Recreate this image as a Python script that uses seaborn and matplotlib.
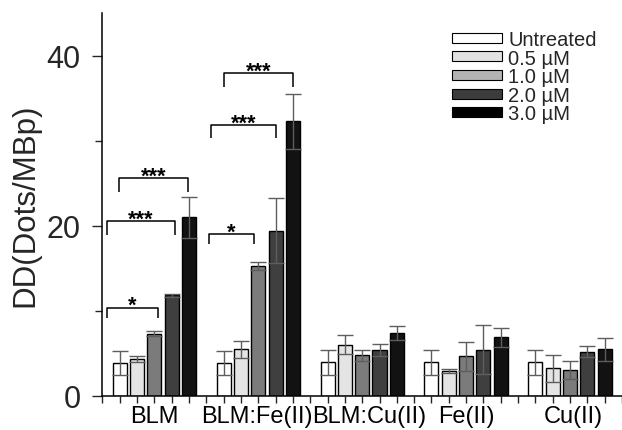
import numpy as np
import pandas as pd
import matplotlib
matplotlib.use("Agg")
import matplotlib.pyplot as plt
import matplotlib.transforms as mtransforms
from matplotlib.patches import Patch
import seaborn as sns

# ---------------- data ----------------
groups = ["BLM", "BLM:Fe(II)", "BLM:Cu(II)", "Fe(II)", "Cu(II)"]
concs = ["Untreated", "0.5 \u00b5M", "1.0 \u00b5M", "2.0 \u00b5M", "3.0 \u00b5M"]

blm_vals = [3.9, 4.35, 7.3, 11.85, 21.0]
blm_err = [1.4, 0.3, 0.3, 0.2, 2.4]
blmfe_vals = [3.9, 5.5, 15.3, 19.45, 32.3]
blmfe_err = [1.4, 1.0, 0.5, 3.8, 3.2]
blmcu_vals = [3.95, 6.05, 4.8, 5.4, 7.4]
blmcu_err = [1.45, 1.1, 0.65, 0.75, 0.8]
fe_vals = [3.95, 2.95, 4.65, 5.45, 6.9]
fe_err = [1.45, 0.27, 1.7, 2.85, 1.1]
cu_vals = [3.95, 3.25, 3.1, 5.2, 5.5]
cu_err = [1.45, 1.55, 1.05, 0.65, 1.35]

# significance brackets: (x_left, x_right, y_top, y_leg_bottom, label)
br_x1 = [0.25, 0.25, 0.98, 6.15, 6.27, 7.04]
br_x2 = [3.23, 4.19, 4.96, 8.77, 10.0, 10.99]
br_y = [10.4, 20.6, 25.6, 19.06, 31.9, 38.0]
br_yb = [9.2, 18.9, 24.0, 17.9, 30.35, 36.3]
br_lab = ["*", "***", "***", "*", "***", "***"]

all_vals = [blm_vals, blmfe_vals, blmcu_vals, fe_vals, cu_vals]
all_err = [blm_err, blmfe_err, blmcu_err, fe_err, cu_err]

rows = []
for gi, g in enumerate(groups):
    for ci, c in enumerate(concs):
        rows.append({"group": g, "conc": c, "pos": gi * 6 + ci + 1,
                     "val": all_vals[gi][ci], "err": all_err[gi][ci]})
df = pd.DataFrame(rows)

bar_colors = ["#ffffff", "#e4e4e4", "#7b7b7b", "#3f3f3f", "#121212"]
legend_colors = ["#ffffff", "#e2e2e2", "#b3b3b3", "#3c3c3c", "#000000"]
palette = dict(zip(concs, bar_colors))

# ---------------- style ----------------
sns.set_style("ticks")
plt.rcParams["font.family"] = ["Liberation Sans", "DejaVu Sans"]

fig = plt.figure(figsize=(6.22, 4.31), dpi=100)
ax = fig.add_axes([0.1632, 0.0789, 1 - 0.1632, 0.9664 - 0.0789])

sns.barplot(data=df, x="pos", y="val", hue="conc", palette=palette,
            native_scale=True, dodge=False, width=0.81, errorbar=None,
            edgecolor="black", linewidth=1.0, legend=False, ax=ax)

ax.errorbar(df["pos"], df["val"], yerr=df["err"], fmt="none",
            ecolor="#5e5e5e", elinewidth=1.0, capsize=5.5, capthick=1.0)

# brackets
for x1, x2, yt, yb, lab in zip(br_x1, br_x2, br_y, br_yb, br_lab):
    ax.plot([x1, x1, x2, x2], [yb, yt, yt, yb], color="black", lw=1.1,
            solid_capstyle="butt", clip_on=False)
    ax.annotate(lab, xy=((x1 + x2) / 2, yt), xytext=(0, -2.5),
                textcoords="offset points", ha="center", va="baseline",
                fontsize=15.5, fontweight="bold", color="black")

# axes
ax.set_xlim(-0.05, 30.0)
ax.set_ylim(0, 45)
ax.set_xticks(np.arange(0, 31))
ax.set_xticklabels([])
ax.tick_params(axis="x", which="major", direction="out", length=5, width=1.0)

label_pos = [3.0, 8.9, 15.4, 21.0, 27.2]
trans = mtransforms.blended_transform_factory(ax.transData, ax.transAxes)
for xp, g in zip(label_pos, groups):
    ax.text(xp, -0.068, g, transform=trans, ha="center", va="baseline",
            fontsize=17, color="black")

ax.set_yticks([0, 20, 40])
ax.set_yticks([10, 30], minor=True)
ax.tick_params(axis="y", which="major", direction="out", length=7, width=1.0,
               labelsize=22, pad=8)
ax.tick_params(axis="y", which="minor", direction="out", length=5, width=1.0)

ax.set_xlabel("")
ax.set_ylabel("DD(Dots/MBp)", fontsize=22.5)
ax.yaxis.set_label_coords(-0.118, 0.502)

sns.despine(ax=ax, top=True, right=True)
for s in ["left", "bottom"]:
    ax.spines[s].set_linewidth(1.1)
    ax.spines[s].set_color("black")

handles = [Patch(facecolor=c, edgecolor="black", linewidth=0.8)
           for c in legend_colors]
fig.legend(handles=handles, labels=concs, loc="upper left",
           bbox_to_anchor=(452 / 622, 1 - 31 / 431),
           bbox_transform=fig.transFigure, frameon=False, borderpad=0,
           borderaxespad=0, handlelength=2.5, handleheight=0.38,
           handletextpad=0.3, labelspacing=-0.02, fontsize=14.5)

fig.savefig("out.png", dpi=100)
